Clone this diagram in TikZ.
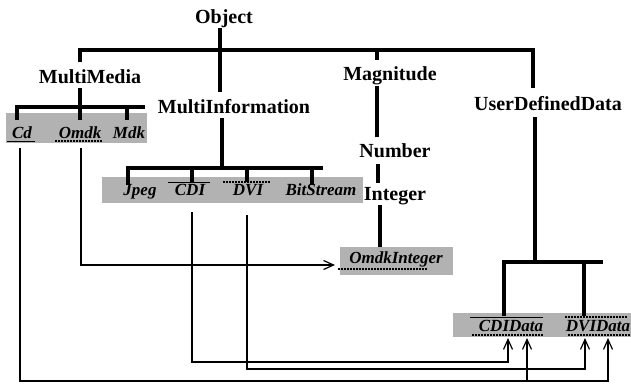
\documentclass[tikz,border=0pt]{standalone}
\usepackage{fontspec}
\setmainfont{Liberation Serif}
\usetikzlibrary{arrows.meta}
\begin{document}
\begin{tikzpicture}[x=1pt,y=-1pt,
  lab/.style={font=\fontsize{20}{24}\selectfont\bfseries, anchor=base, inner sep=0pt},
  itm/.style={font=\fontsize{17}{20}\selectfont\bfseries\itshape, anchor=base, inner sep=0pt},
  bus/.style={line width=3.5pt, line join=miter},
  wire/.style={line width=1.2pt},
  arr/.style={wire, -{Straight Barb[length=10pt,width=9pt,line width=1.2pt]}},
  shade/.style={fill=black!30, draw=none, inner sep=0pt, anchor=north west},
  sol/.style={line width=1pt},
  dotl/.style={line width=1.3pt, dash pattern=on 1.5pt off 1.5pt}]
\useasboundingbox (0,0) rectangle (631,384);
\fill[white] (0,0) rectangle (631,384);

% shaded boxes
\node[shade, minimum width=141pt, minimum height=30pt] (mmbox) at (6,113) {};
\node[shade, minimum width=261pt, minimum height=26pt] (mibox) at (102,177) {};
\node[shade, minimum width=113pt, minimum height=28pt] (oibox) at (340,247) {};
\node[shade, minimum width=178pt, minimum height=24pt] (udbox) at (453,313) {};

% class labels
\node[lab] (obj) at (224,23) {Object};
\node[lab] (mm) at (90,83) {MultiMedia};
\node[lab] (mi) at (234,113) {MultiInformation};
\node[lab] (mag) at (390,80) {Magnitude};
\node[lab] (num) at (395,157) {Number};
\node[lab] (int) at (395,200) {Integer};
\node[lab] (udd) at (548,110) {UserDefinedData};

% items in boxes
\node[itm] (cd) at (22,138) {Cd};
\node[itm] (omdk) at (80,138) {Omdk};
\node[itm] (mdk) at (129,138) {Mdk};
\node[itm] (jpeg) at (140,195) {Jpeg};
\node[itm] (cdi) at (190,195) {CDI};
\node[itm] (dvi) at (248,195) {DVI};
\node[itm] (bits) at (321,195) {BitStream};
\node[itm] (oi) at (396,263) {OmdkInteger};
\node[itm] (cdid) at (511,331) {CDIData};
\node[itm] (dvid) at (598,331) {DVIData};

% under/over lines
\draw[sol] (7,141) -- (35,141);
\draw[dotl] (55,141) -- (102,141);
\draw[sol] (168,182) -- (210,182);
\draw[dotl] (223,182) -- (270,182);
\draw[dotl] (338,269) -- (427,269);
\draw[sol] (470,317) -- (543,317);
\draw[dotl] (472,335) -- (543,335);
\draw[dotl] (565,317) -- (628,317);
\draw[dotl] (568,335) -- (631,335);

% bus coordinates
\coordinate (objB) at (220,28);
\coordinate (miT) at (220,92);
\coordinate (mmT) at (80,62);
\coordinate (uddT) at (533,88);
\coordinate (topR) at (533,50);
\coordinate (magJ) at (377,50);
\coordinate (magT) at (377,60);
\coordinate (magB) at (377,86);
\coordinate (numT) at (377,137);
\coordinate (numB) at (378,164);
\coordinate (intT) at (378,183);
\coordinate (intB) at (380,205);
\coordinate (oiT) at (380,247);
\coordinate (mmB) at (80,88);
\coordinate (omdkT) at (80,120);
\coordinate (cdT) at (17,120);
\coordinate (mmR) at (145,107);
\coordinate (mdkJ) at (127,107);
\coordinate (mdkT) at (127,120);
\coordinate (miB) at (222,118);
\coordinate (miJ) at (222,168);
\coordinate (jpegT) at (128,185);
\coordinate (miR) at (323,168);
\coordinate (cdiJ) at (192,168);
\coordinate (cdiT) at (192,182);
\coordinate (dviJ) at (247,168);
\coordinate (dviT) at (247,182);
\coordinate (bitsJ) at (312,168);
\coordinate (bitsT) at (312,185);
\coordinate (uddB) at (535,117);
\coordinate (uddJ) at (535,262);
\coordinate (cdidT) at (504,316);
\coordinate (udR) at (603,262);
\coordinate (dvidJ) at (584,262);
\coordinate (dvidT) at (584,316);

% tree buses
\draw[bus] (mmT) |- (topR) -- (uddT);
\draw[bus] (objB) -- (miT);
\draw[bus] (magJ) -- (magT);
\draw[bus] (magB) -- (numT);
\draw[bus] (numB) -- (intT);
\draw[bus] (intB) -- (oiT);
\draw[bus] (mmB) -- (omdkT);
\draw[bus] (cdT) |- (mmR);
\draw[bus] (mdkJ) -- (mdkT);
\draw[bus] (miB) -- (miJ);
\draw[bus] (jpegT) |- (miR);
\draw[bus] (cdiJ) -- (cdiT);
\draw[bus] (dviJ) -- (dviT);
\draw[bus] (bitsJ) -- (bitsT);
\draw[bus] (uddB) -- (uddJ);
\draw[bus] (cdidT) |- (udR);
\draw[bus] (dvidJ) -- (dvidT);

% reference connectors
\coordinate (cdS) at (20,148);
\coordinate (omdkS) at (81,148);
\coordinate (cdiS) at (192,212);
\coordinate (dviS) at (247,215);
\coordinate (oiW) at (335,265);
\coordinate (cR1) at (508,362);
\coordinate (cA1) at (508,338);
\coordinate (dR1) at (585,369);
\coordinate (dA1) at (585,338);
\coordinate (bR) at (608,381);
\coordinate (bA) at (608,338);
\coordinate (bM) at (527,381);
\coordinate (bMA) at (527,338);

\draw[arr] (omdkS) |- (oiW);
\draw[arr] (cdiS) |- (cR1) -- (cA1);
\draw[arr] (dviS) |- (dR1) -- (dA1);
\draw[arr] (cdS) |- (bR) -- (bA);
\draw[arr] (bM) -- (bMA);
\end{tikzpicture}
\end{document}
